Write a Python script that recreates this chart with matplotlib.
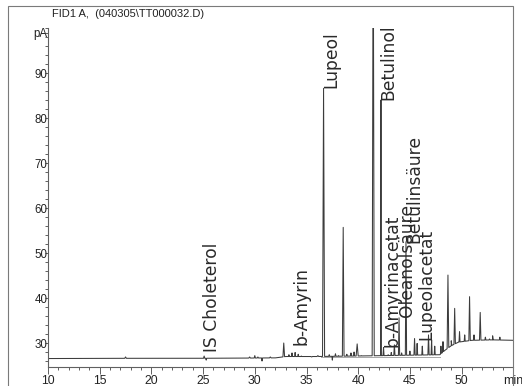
import numpy as np
import matplotlib
matplotlib.use("Agg")
import matplotlib.pyplot as plt
from matplotlib.patches import Rectangle
from matplotlib.ticker import MultipleLocator

# ---------------- data ----------------
title = "FID1 A,  (040305\\TT000032.D)"

# detector baseline (time in min, signal in pA)
base_t = [10.0, 17.0, 24.0, 29.0, 32.0, 33.0, 36.0, 42.5, 47.9, 48.4, 49.0, 49.7, 51.0, 53.0, 55.0]
base_v = [26.55, 26.6, 26.6, 26.65, 26.7, 27.0, 27.0, 27.2, 27.4, 28.4, 29.4, 30.2, 30.6, 30.7, 30.6]

# peaks: retention time, apex (pA), half width (min)
peak_t = [17.5, 25.1, 25.3, 29.5, 30.0, 30.3, 30.7, 31.5,
          32.8, 33.3, 33.6, 33.9, 34.2, 34.5, 35.5, 36.1,
          36.65, 37.2, 37.5, 37.8, 38.1, 38.55, 38.9, 39.3, 39.6, 39.9, 40.3,
          41.45, 42.2, 42.45, 42.9, 43.2, 43.5, 43.95, 44.2, 44.62,
          45.0, 45.45, 45.7, 46.2, 46.8, 47.1, 47.4, 48.0, 48.2,
          48.68, 49.0, 49.33, 49.8, 50.3, 50.77, 51.2, 51.8, 52.3, 52.7, 53.0, 53.7]
peak_h = [26.9, 27.1, 26.2, 26.9, 27.2, 26.9, 26.0, 26.9,
          30.0, 27.4, 27.8, 27.9, 27.5, 27.1, 26.9, 27.2,
          86.6, 27.4, 26.2, 27.6, 27.2, 55.7, 27.5, 27.8, 28.0, 29.8, 27.2,
          130.0, 84.0, 29.0, 27.4, 27.9, 29.6, 35.6, 27.8, 52.5,
          28.2, 31.0, 29.9, 29.3, 31.8, 30.7, 29.3, 29.3, 30.3,
          45.1, 30.5, 37.7, 32.5, 31.8, 40.3, 31.8, 36.8, 31.3, 30.9, 31.6, 31.3]
peak_w = [0.08, 0.06, 0.05, 0.08, 0.06, 0.06, 0.05, 0.08,
          0.08, 0.05, 0.05, 0.05, 0.05, 0.05, 0.08, 0.08,
          0.10, 0.05, 0.04, 0.05, 0.05, 0.08, 0.05, 0.05, 0.05, 0.10, 0.05,
          0.10, 0.03, 0.05, 0.05, 0.05, 0.06, 0.06, 0.05, 0.06,
          0.05, 0.06, 0.05, 0.05, 0.06, 0.05, 0.05, 0.05, 0.05,
          0.08, 0.05, 0.07, 0.05, 0.05, 0.07, 0.05, 0.07, 0.05, 0.05, 0.05, 0.05]

# integration baseline
integ_t = [36.4, 47.9]
integ_v = [26.95, 26.95]

# peak annotations
label_text = ["IS Choleterol", "b-Amyrin", "Lupeol", "Betulinol", "b-Amyrinacetat",
              "Oleanolsäure", "Betulinsäure", "Lupeolacetat"]
label_t = [24.97, 33.65, 36.5, 42.05, 42.4, 43.85, 44.55, 45.7]
label_v = [28.1, 29.5, 86.6, 84.0, 29.2, 35.8, 52.3, 30.7]

xticks = [10, 15, 20, 25, 30, 35, 40, 45, 50, 55]
xtick_labels = ["10", "15", "20", "25", "30", "35", "40", "45", "50", "min"]
yticks = [30, 40, 50, 60, 70, 80, 90, 99]
ytick_labels = ["30", "40", "50", "60", "70", "80", "90", "pA"]

# ---------------- build trace ----------------
pts = list(zip(base_t, base_v))
for t, h, w in zip(peak_t, peak_h, peak_w):
    pts.append((t - w, float(np.interp(t - w, base_t, base_v))))
    pts.append((t, h))
    pts.append((t + w, float(np.interp(t + w, base_t, base_v))))
pts.sort(key=lambda p: p[0])
tr_t = np.array([p[0] for p in pts])
tr_v = np.array([p[1] for p in pts])

# ---------------- figure ----------------
W, H = 522, 386
fig = plt.figure(figsize=(W / 100, H / 100), dpi=100)
ax = fig.add_axes([48 / W, 1 - 367 / H, (513.3 - 48) / W, (367 - 28) / H])

ax.plot(integ_t, integ_v, color="#a8a8a8", lw=0.7)
ax.plot(tr_t, tr_v, color="#3c3c3c", lw=0.75)

ax.set_xlim(10, 55)
ax.set_ylim(24.67, 100)

for s in ["top", "right"]:
    ax.spines[s].set_visible(False)
for s in ["left", "bottom"]:
    ax.spines[s].set_color("#606060")
    ax.spines[s].set_linewidth(0.8)

ax.set_xticks(xticks)
ax.set_xticklabels(xtick_labels)
ax.set_yticks(yticks)
ax.set_yticklabels(ytick_labels)
ax.xaxis.set_minor_locator(MultipleLocator(1))
ax.yaxis.set_minor_locator(MultipleLocator(2))
ax.tick_params(axis="x", which="major", direction="out", length=5, width=0.7,
               color="#606060", labelsize=8.8, pad=1, labelcolor="#222222")
ax.tick_params(axis="x", which="minor", direction="out", length=2.5, width=0.7, color="#606060")
ax.tick_params(axis="y", which="major", direction="out", length=2.5, width=0.7,
               color="#606060", labelsize=8.3, pad=-2, labelcolor="#222222")
ax.tick_params(axis="y", which="minor", direction="out", length=2.5, width=0.7, color="#606060")
for lab in ax.get_xticklabels() + ax.get_yticklabels():
    lab.set_family("Liberation Sans")

for txt, t, v in zip(label_text, label_t, label_v):
    ax.text(t, v, txt, rotation=90, ha="left", va="bottom", fontsize=12.3,
            color="#2a2a2a", family="DejaVu Sans", clip_on=False)

# outer frame
fig.patches.append(Rectangle((8 / W, -0.05), (513.3 - 8) / W, 1.05 - 6 / H,
                             transform=fig.transFigure, fill=False,
                             edgecolor="#7a7a7a", lw=0.8))

fig.text(52 / W, 1 - 14 / H, title, ha="left", va="center", fontsize=8,
         family="Liberation Sans", color="#222222")

fig.savefig("out.png", dpi=100)
